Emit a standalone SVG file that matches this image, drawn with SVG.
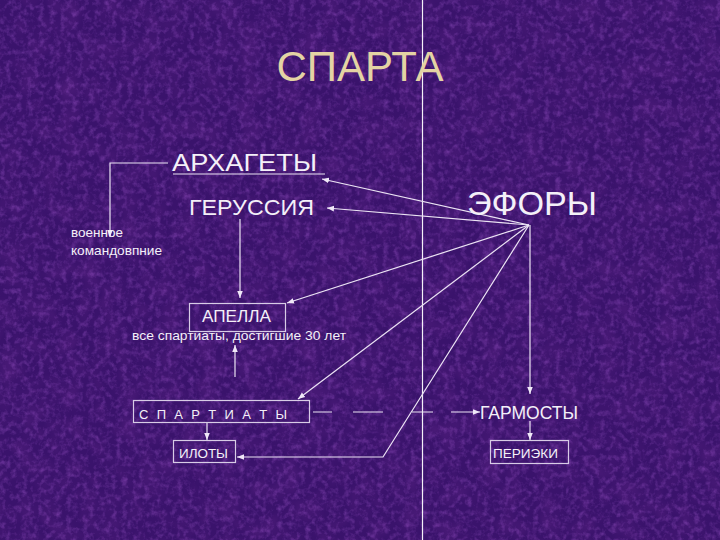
<svg xmlns="http://www.w3.org/2000/svg" width="720" height="540" viewBox="0 0 720 540">
<style>
.t{font-family:"Liberation Sans",Arial,sans-serif;fill:#f4f0f8}
.c{stroke:#ece4f4;stroke-width:1.2;fill:none}
.b{stroke:#d8cce6;stroke-width:1.2;fill:none}
</style>
<defs>
<marker id="ah" viewBox="0 0 10 10" refX="10" refY="5" markerWidth="7" markerHeight="7" orient="auto" markerUnits="userSpaceOnUse">
<path d="M0,1 L10,5 L0,9 z" fill="#f0e8f8"/>
</marker>
<filter id="tex" x="0" y="0" width="100%" height="100%">
<feTurbulence type="fractalNoise" baseFrequency="0.18" numOctaves="3" seed="4"/>
<feColorMatrix type="matrix" values="0 0 0 0 0.42  0 0 0 0 0.12  0 0 0 0 0.7  0 0 0 1.6 -0.7"/>
</filter>
<filter id="tex2" x="0" y="0" width="100%" height="100%">
<feTurbulence type="fractalNoise" baseFrequency="0.05" numOctaves="2" seed="9"/>
<feColorMatrix type="matrix" values="0 0 0 0 0.12  0 0 0 0 0.02  0 0 0 0 0.25  0 0 0 1.4 -0.55"/>
</filter>
</defs>
<rect width="720" height="540" fill="#3a136c"/>
<rect width="720" height="540" filter="url(#tex2)" opacity="0.6"/>
<rect width="720" height="540" filter="url(#tex)" opacity="0.5"/>
<line x1="422.5" y1="0" x2="422.5" y2="540" stroke="#f4f0f8" stroke-width="1.2"/>
<text x="360" y="81" text-anchor="middle" class="t" style="fill:#e4d3a4;font-size:42px">СПАРТА</text>
<g id="connectors">
<polyline class="c" points="168,163 110,163 110,237" marker-end="url(#ah)"/>
<line class="c" x1="173" y1="174" x2="325" y2="174"/>
<line class="c" x1="529" y1="225" x2="322" y2="179" marker-end="url(#ah)"/>
<line class="c" x1="529" y1="225" x2="327" y2="208" marker-end="url(#ah)"/>
<line class="c" x1="529" y1="225" x2="287" y2="303" marker-end="url(#ah)"/>
<line class="c" x1="529" y1="225" x2="298" y2="399" marker-end="url(#ah)"/>
<line class="c" x1="530" y1="225" x2="530" y2="394" marker-end="url(#ah)"/>
<polyline class="c" points="529,225 383,457 237,457" marker-end="url(#ah)"/>
<line class="c" x1="240" y1="219" x2="240" y2="298" marker-end="url(#ah)"/>
<line class="c" x1="235" y1="377" x2="235" y2="345" marker-end="url(#ah)"/>
<line class="c" x1="207" y1="423" x2="207" y2="440" marker-end="url(#ah)"/>
<line class="c" x1="313" y1="412" x2="480" y2="412" stroke-dasharray="19 21 30 29 21 18 40" marker-end="url(#ah)"/>
<line class="c" x1="530" y1="421" x2="530" y2="440" marker-end="url(#ah)"/>
</g>
<g id="arhagety"><text x="172" y="171" class="t" style="font-size:23px" textLength="145" lengthAdjust="spacingAndGlyphs">АРХАГЕТЫ</text></g>
<g id="gerussia"><text x="189" y="215" class="t" style="font-size:22px" textLength="125" lengthAdjust="spacingAndGlyphs">ГЕРУССИЯ</text></g>
<g id="efory"><text x="467" y="215" class="t" style="font-size:34px" textLength="130" lengthAdjust="spacingAndGlyphs">ЭФОРЫ</text></g>
<g id="voennoe"><text x="71" y="237" class="t" style="font-size:13.5px">военное</text><text x="71" y="255" class="t" style="font-size:13.5px" textLength="91" lengthAdjust="spacingAndGlyphs">командовпние</text></g>
<g id="apella"><rect class="b" x="189.5" y="303.5" width="96" height="28"/><text x="202" y="322" class="t" style="font-size:17px" textLength="69" lengthAdjust="spacingAndGlyphs">АПЕЛЛА</text></g>
<g id="note"><text x="132" y="340" class="t" style="font-size:13.5px" textLength="214" lengthAdjust="spacingAndGlyphs">все спартиаты, достигшие 30 лет</text></g>
<g id="spartiaty"><rect class="b" x="133.5" y="400.5" width="176" height="22"/><text x="139" y="419" class="t" style="font-size:13px" textLength="148" lengthAdjust="spacing">С П А Р Т И А Т Ы</text></g>
<g id="iloty"><rect class="b" x="173.5" y="440.5" width="62" height="22"/><text x="179" y="458" class="t" style="font-size:13.5px" textLength="49" lengthAdjust="spacingAndGlyphs">ИЛОТЫ</text></g>
<g id="garmosty"><text x="480" y="419" class="t" style="font-size:17.5px" textLength="98" lengthAdjust="spacingAndGlyphs">ГАРМОСТЫ</text></g>
<g id="perieki"><rect class="b" x="490.5" y="440.5" width="78" height="23"/><text x="493" y="458" class="t" style="font-size:13.5px" textLength="65" lengthAdjust="spacingAndGlyphs">ПЕРИЭКИ</text></g>
</svg>
